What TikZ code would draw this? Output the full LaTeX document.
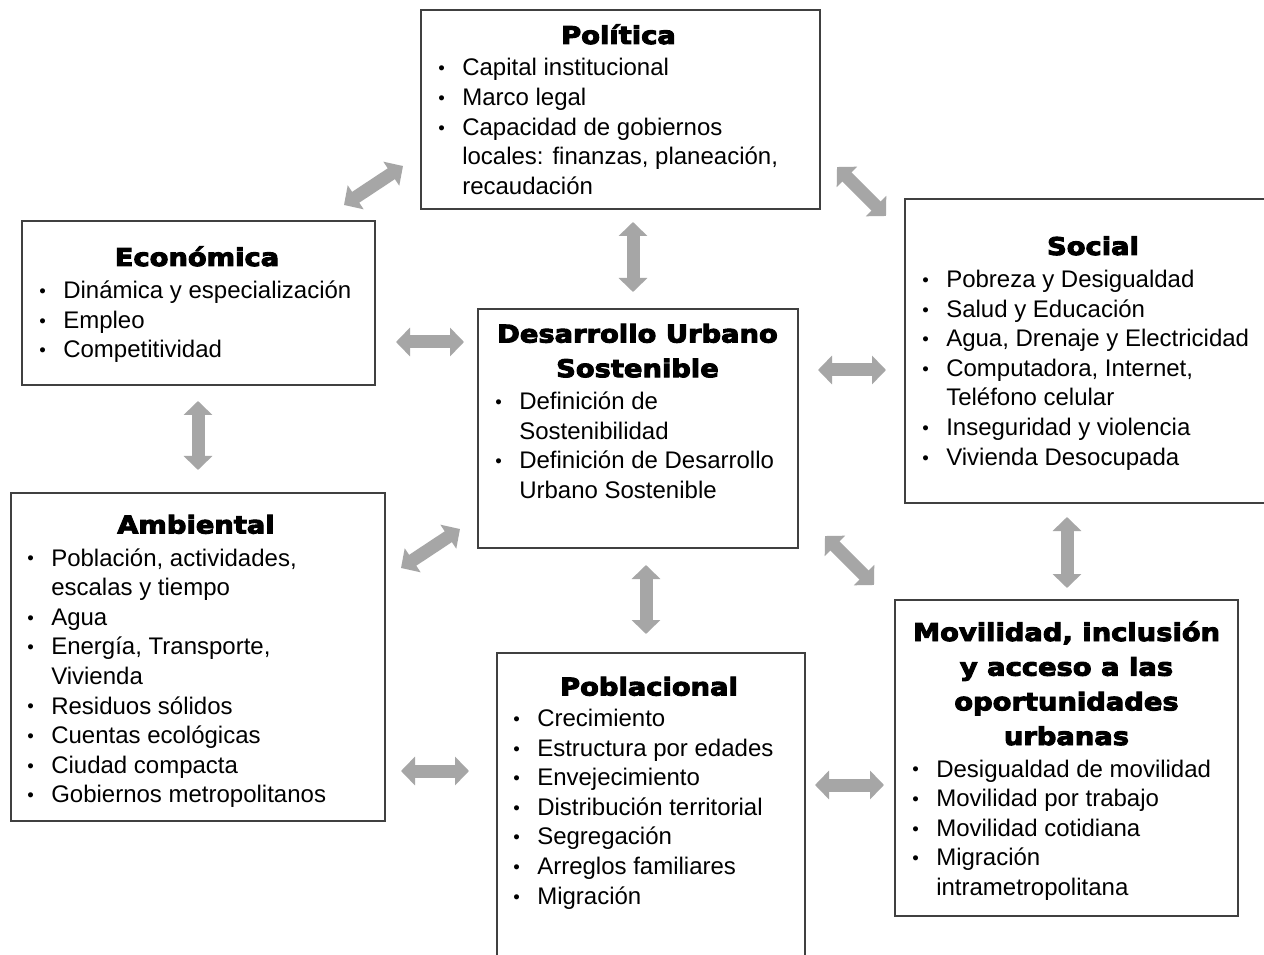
\documentclass[tikz,border=0pt]{standalone}
\usepackage{fontspec}
\setmainfont{Liberation Sans}
\newfontfamily\tfont[FakeStretch=1.12,FakeBold=4]{DejaVu Sans Bold}
\usetikzlibrary{arrows.meta,fit}
\definecolor{arrowgray}{HTML}{A6A6A6}
\definecolor{boxline}{HTML}{404040}
\newcommand\blst[1]{\vtop{\baselineskip=22.2pt\lineskiplimit=-100pt\lineskip=0pt\halign{\hbox to 18pt{##\hfil}&##\hfil\cr#1\crcr}}}
\newcommand\ttl[1]{\vtop{\baselineskip=26pt\lineskiplimit=-100pt\lineskip=0pt\halign{\hfil##\hfil\cr#1\crcr}}}
\newcommand\bu{\raisebox{0.8pt}{\fontsize{14pt}{14pt}\selectfont\textbullet}}
\tikzset{
  box/.style={draw=boxline, line width=1.5pt, inner sep=0pt},
  biarrow/.style={draw=arrowgray, line width=9.75pt,
    {Triangle[width=21pt,length=10.5pt]}-{Triangle[width=21pt,length=10.5pt]}},
  lst/.style={anchor=base west, inner sep=0pt, font=\fontsize{18pt}{22.2pt}\selectfont},
  ttlnode/.style={anchor=base, inner sep=0pt, font=\tfont\fontsize{18.3pt}{26pt}\selectfont}
}
\begin{document}
\begin{tikzpicture}[x=0.75pt,y=-0.75pt]
\fill[white] (0,0) rectangle (1264,955);
\useasboundingbox (0,0) rectangle (1264,955);

% boxes
\node[box, fit={(421,10)(820,209)}] (pol) {};
\node[box, fit={(22,221)(375,385)}] (eco) {};
\node[box, fit={(905,199)(1280,503)}] (soc) {};
\node[box, fit={(478,309)(798,548)}] (cen) {};
\node[box, fit={(11,493)(385,821)}] (amb) {};
\node[box, fit={(497,653)(805,975)}] (pob) {};
\node[box, fit={(895,600)(1238,916)}] (mov) {};

% titles
\node[ttlnode] (polT) at (618.5,44) {\ttl{Política}};
\node[ttlnode] (ecoT) at (197,266) {\ttl{Económica}};
\node[ttlnode] (socT) at (1093,255) {\ttl{Social}};
\node[ttlnode] (cenT) at (637.5,342.5) {\ttl{Desarrollo Urbano\cr Sostenible}};
\node[ttlnode] (ambT) at (196,533.5) {\ttl{Ambiental}};
\node[ttlnode] (pobT) at (649,695.5) {\ttl{Poblacional}};
\node[ttlnode] (movT) at (1066.5,641) {\ttl{Movilidad, inclusión\cr y acceso a las\cr oportunidades\cr urbanas}};

% lists
\node[lst] (polL) at (438,76) {\blst{\bu & Capital institucional\cr
\bu & Marco legal\cr
\bu & Capacidad de gobiernos\cr
& locales: finanzas, planeación,\cr
& recaudación}};
\node[lst] (ecoL) at (39,298.5) {\blst{\bu & Dinámica y especialización\cr
\bu & Empleo\cr
\bu & Competitividad}};
\node[lst] (socL) at (922,287.5) {\blst{\bu & Pobreza y Desigualdad\cr
\bu & Salud y Educación\cr
\bu & Agua, Drenaje y Electricidad\cr
\bu & Computadora, Internet,\cr
& Teléfono celular\cr
\bu & Inseguridad y violencia\cr
\bu & Vivienda Desocupada}};
\node[lst] (cenL) at (495,409.5) {\blst{\bu & Definición de\cr
& Sostenibilidad\cr
\bu & Definición de Desarrollo\cr
& Urbano Sostenible}};
\node[lst] (ambL) at (27,566) {\blst{\bu & Población, actividades,\cr
& escalas y tiempo\cr
\bu & Agua\cr
\bu & Energía, Transporte,\cr
& Vivienda\cr
\bu & Residuos sólidos\cr
\bu & Cuentas ecológicas\cr
\bu & Ciudad compacta\cr
\bu & Gobiernos metropolitanos}};
\node[lst] (pobL) at (513,726.5) {\blst{\bu & Crecimiento\cr
\bu & Estructura por edades\cr
\bu & Envejecimiento\cr
\bu & Distribución territorial\cr
\bu & Segregación\cr
\bu & Arreglos familiares\cr
\bu & Migración}};
\node[lst] (movL) at (912,777) {\blst{\bu & Desigualdad de movilidad\cr
\bu & Movilidad por trabajo\cr
\bu & Movilidad cotidiana\cr
\bu & Migración\cr
& intrametropolitana}};

% arrow end points
\coordinate (pe1) at (344,205); \coordinate (pe2) at (403,166);
\coordinate (ps1) at (837,167); \coordinate (ps2) at (886,216);
\coordinate (pc1) at (633,222); \coordinate (pc2) at (633,292);
\coordinate (ec1) at (396,342); \coordinate (ec2) at (464,342);
\coordinate (cs1) at (818,370); \coordinate (cs2) at (886,370);
\coordinate (ea1) at (198,401); \coordinate (ea2) at (198,470);
\coordinate (ca1) at (401,568); \coordinate (ca2) at (460,529);
\coordinate (cp1) at (646,565); \coordinate (cp2) at (646,634);
\coordinate (cm1) at (825,536); \coordinate (cm2) at (874,585);
\coordinate (sm1) at (1067,517); \coordinate (sm2) at (1067,588);
\coordinate (ap1) at (401,771); \coordinate (ap2) at (469,771);
\coordinate (pm1) at (815,785); \coordinate (pm2) at (884,785);

\draw[biarrow] (pe1) -- (pe2);
\draw[biarrow] (ps1) -- (ps2);
\draw[biarrow] (pc1) -- (pc2);
\draw[biarrow] (ec1) -- (ec2);
\draw[biarrow] (cs1) -- (cs2);
\draw[biarrow] (ea1) -- (ea2);
\draw[biarrow] (ca1) -- (ca2);
\draw[biarrow] (cp1) -- (cp2);
\draw[biarrow] (cm1) -- (cm2);
\draw[biarrow] (sm1) -- (sm2);
\draw[biarrow] (ap1) -- (ap2);
\draw[biarrow] (pm1) -- (pm2);
\end{tikzpicture}
\end{document}
